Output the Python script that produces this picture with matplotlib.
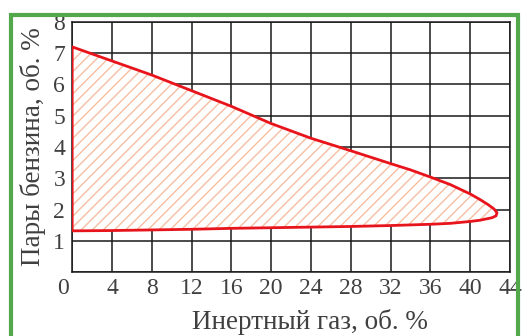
import matplotlib
matplotlib.use("Agg")
import matplotlib.pyplot as plt
from matplotlib.patches import Polygon, Rectangle
from matplotlib.transforms import ScaledTranslation

# Upper boundary (left -> right)
upper_x = [0, 4, 8, 12, 16, 20, 24, 28, 32, 34, 36, 38, 40, 41, 41.8, 42.4, 42.7]
upper_y = [7.2, 6.75, 6.3, 5.8, 5.3, 4.75, 4.28, 3.88, 3.47, 3.27, 3.04, 2.8, 2.5, 2.32, 2.16, 2.02, 1.9]
# Lower boundary (right -> left)
lower_x = [42.6, 42.2, 41, 40, 38, 36, 32, 28, 24, 20, 16, 12, 8, 4, 0]
lower_y = [1.8, 1.74, 1.66, 1.62, 1.56, 1.53, 1.49, 1.46, 1.44, 1.42, 1.4, 1.37, 1.35, 1.33, 1.32]

x_ticks = [0, 4, 8, 12, 16, 20, 24, 28, 32, 36, 40, 44]
y_ticks = [0, 1, 2, 3, 4, 5, 6, 7, 8]
x_label = "Инертный газ, об. %"
y_label = "Пары бензина, об. %"

plt.rcParams['font.family'] = ['Liberation Serif', 'DejaVu Serif']
plt.rcParams['hatch.linewidth'] = 1.0

fig = plt.figure(figsize=(5.23, 3.36), dpi=100)
ax = fig.add_axes([0.138, 0.19, 0.837, 0.745])

ax.set_xlim(0, 44)
ax.set_ylim(0, 8)
ax.set_xticks(x_ticks)
ax.set_yticks(y_ticks)
ax.set_xticklabels([str(v) for v in x_ticks])
ax.set_yticklabels([''] + [str(v) for v in y_ticks[1:]])
ax.grid(True, color='#1a1a1a', linewidth=1.1)
ax.set_axisbelow(True)
for s in ax.spines.values():
    s.set_color('#1a1a1a')
    s.set_linewidth(1.1)
ax.tick_params(length=0, labelsize=17, colors='#404040')
ax.tick_params(axis='x', pad=4)
ax.tick_params(axis='y', pad=5)
# shift the "0" label left to sit at the corner
lbl0 = ax.get_xticklabels()[0]
lbl0.set_transform(lbl0.get_transform() + ScaledTranslation(-0.09, 0, fig.dpi_scale_trans))

pts = list(zip(upper_x, upper_y)) + list(zip(lower_x, lower_y))
hatch_poly = Polygon(pts, closed=True, facecolor='white', edgecolor='#f7bea2',
                     hatch='///', linewidth=0, zorder=3)
ax.add_patch(hatch_poly)
edge_poly = Polygon(pts, closed=True, fill=False, edgecolor='#e8141c',
                    linewidth=2.0, zorder=4, joinstyle='round')
ax.add_patch(edge_poly)

ax.set_xlabel(x_label, fontsize=19.5, color='#404040')
ax.xaxis.set_label_coords(0.543, -0.148)
ax.set_ylabel(y_label, fontsize=19.5, color='#404040', labelpad=5)

# green frame
fig.patches.append(Rectangle((11/523, -0.05), (518-11)/523, 1 - 15/336 + 0.05,
                             transform=fig.transFigure, fill=False,
                             edgecolor='#52a84a', linewidth=3.0, zorder=0))

fig.savefig('out.png', dpi=100)
